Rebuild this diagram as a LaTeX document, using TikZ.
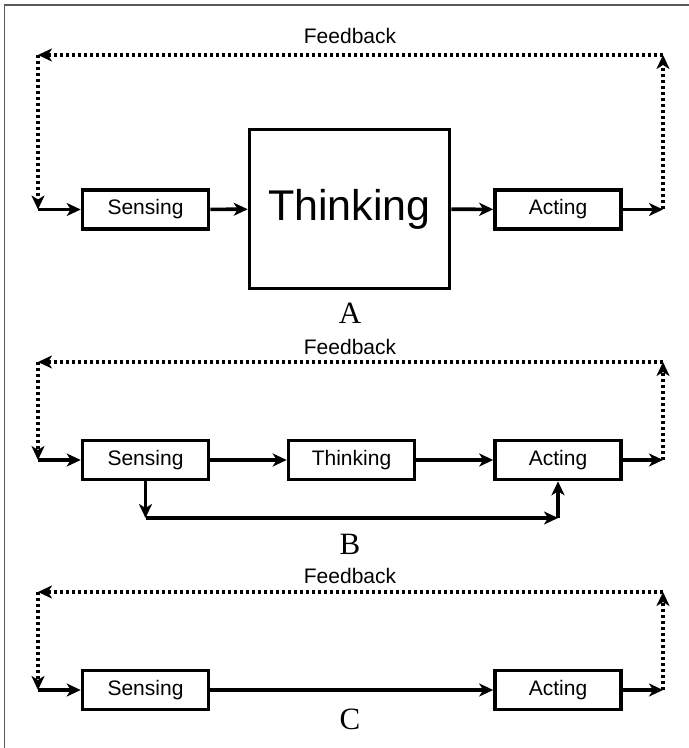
\documentclass[tikz,border=0pt]{standalone}
\usepackage{fontspec}
\setmainfont{Liberation Sans}
\newfontfamily\panelfont{Liberation Serif}
\usetikzlibrary{arrows.meta}

\tikzset{
  stage/.style={draw, line width=1.8pt, minimum width=63pt, minimum height=19.5pt,
    inner sep=0pt, font=\fontsize{10.5}{12}\selectfont},
  flow/.style={line width=1.8pt, -{Stealth[length=7pt,width=6.5pt,inset=2pt]}},
  fb/.style={line width=2pt, dash pattern=on 1.5pt off 1.5pt,
    -{Stealth[length=7pt,width=6.5pt,inset=2pt]}},
  fblabel/.style={font=\fontsize{10.5}{12}\selectfont},
  panel/.style={font=\panelfont\fontsize{15.5}{17}\selectfont}
}

\begin{document}
\begin{tikzpicture}[x=0.5pt,y=-0.5pt]
    \useasboundingbox (0,0) rectangle (689,748);
    % Frame
    \draw[gray!70!black, line width=0.8pt] (4.5,748) -- (4.5,5) -- (689,5);

    % Panel A
    \node[stage] (sensA) at (145.5,209.5) {Sensing};
    \node[draw, line width=1.8pt, minimum width=100pt, minimum height=79.5pt,
      font=\fontsize{21.5}{25}\selectfont] (thinkA) at (349.5,209) {Thinking};
    \node[stage] (actA) at (558,209.5) {Acting};
    \coordinate (inA) at (38,209.5);
    \coordinate (outA) at (663,209.5);
    \coordinate (tlA) at (38,55);
    \coordinate (trA) at (663,55);
    \draw[flow] (sensA) -- (thinkA);
    \draw[flow] (thinkA) -- (actA);
    \draw[flow] (actA) -- (outA);
    \draw[fb] (outA) -- (trA);
    \draw[fb] (trA) -- (tlA);
    \draw[fb] (tlA) -- (inA);
    \draw[flow] (inA) -- (sensA);
    \node[fblabel] (fbA) at (350,36) {Feedback};
    \node[panel] (labA) at (350,313) {A};

    % Panel B
    \node[stage] (sensB) at (145.5,460) {Sensing};
    \node[stage] (thinkB) at (351.5,460) {Thinking};
    \node[stage] (actB) at (558,460) {Acting};
    \coordinate (inB) at (38,460);
    \coordinate (outB) at (663,460);
    \coordinate (tlB) at (38,362);
    \coordinate (trB) at (663,362);
    \coordinate (c1B) at (sensB.south |- 0,518);
    \coordinate (c2B) at (actB.south |- 0,518);
    \draw[flow] (sensB) -- (thinkB);
    \draw[flow] (thinkB) -- (actB);
    \draw[flow] (actB) -- (outB);
    \draw[fb] (outB) -- (trB);
    \draw[fb] (trB) -- (tlB);
    \draw[fb] (tlB) -- (inB);
    \draw[flow] (inB) -- (sensB);
    % shortcut
    \draw[flow] (sensB.south) -- (c1B);
    \draw[flow] (c1B) -- (c2B);
    \draw[flow] (c2B) -- (actB.south);
    \node[fblabel] (fbB) at (350,347) {Feedback};
    \node[panel] (labB) at (350,544) {B};

    % Panel C
    \node[stage] (sensC) at (145.5,690) {Sensing};
    \node[stage] (actC) at (558,690) {Acting};
    \coordinate (inC) at (38,690);
    \coordinate (outC) at (663,690);
    \coordinate (tlC) at (38,592);
    \coordinate (trC) at (663,592);
    \draw[flow] (sensC) -- (actC);
    \draw[flow] (actC) -- (outC);
    \draw[fb] (outC) -- (trC);
    \draw[fb] (trC) -- (tlC);
    \draw[fb] (tlC) -- (inC);
    \draw[flow] (inC) -- (sensC);
    \node[fblabel] (fbC) at (350,576) {Feedback};
    \node[panel] (labC) at (350,719) {C};
\end{tikzpicture}
\end{document}
